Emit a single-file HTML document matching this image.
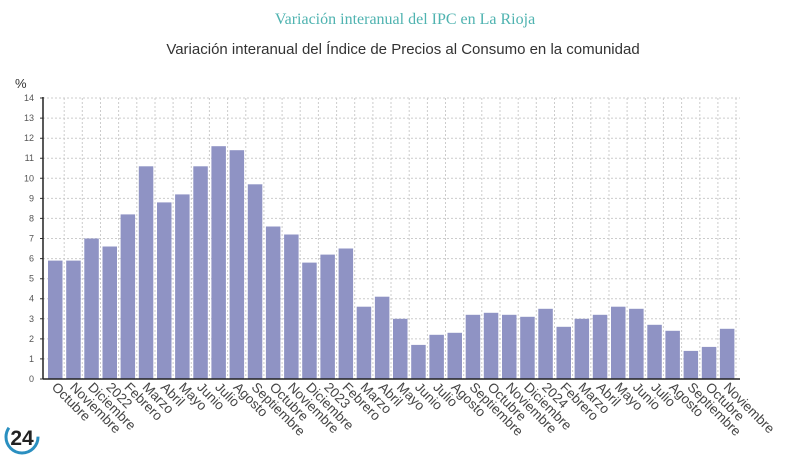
<!DOCTYPE html><html><head><meta charset="utf-8"><style>body{margin:0;background:#fff;width:800px;height:455px;overflow:hidden}svg{display:block}</style></head><body>
<svg width="800" height="455" xmlns="http://www.w3.org/2000/svg" font-family="Liberation Sans, sans-serif">
<text x="405" y="24" text-anchor="middle" font-family="Liberation Serif, serif" font-size="16" fill="#4fb3b0">Variación interanual del IPC en La Rioja</text>
<text x="403" y="54" text-anchor="middle" font-size="15" fill="#333">Variación interanual del Índice de Precios al Consumo en la comunidad</text>
<text x="15" y="88" font-size="13" fill="#333">%</text>
<g stroke="#ccc" stroke-dasharray="2,2">
<path d="M43 358.9H740M43 338.9H740M43 318.8H740M43 298.7H740M43 278.7H740M43 258.6H740M43 238.5H740M43 218.4H740M43 198.4H740M43 178.3H740M43 158.2H740M43 138.2H740M43 118.1H740M43 98H740"/>
<path d="M64.2 98V379M82.3 98V379M100.5 98V379M118.6 98V379M136.8 98V379M155 98V379M173.1 98V379M191.3 98V379M209.4 98V379M227.6 98V379M245.8 98V379M263.9 98V379M282.1 98V379M300.2 98V379M318.4 98V379M336.6 98V379M354.7 98V379M372.9 98V379M391 98V379M409.2 98V379M427.4 98V379M445.5 98V379M463.7 98V379M481.8 98V379M500 98V379M518.2 98V379M536.3 98V379M554.5 98V379M572.6 98V379M590.8 98V379M609 98V379M627.1 98V379M645.3 98V379M663.4 98V379M681.6 98V379M699.8 98V379M717.9 98V379M736 98V379"/>
</g>
<g fill="#8f93c4">
<rect x="48" y="260.6" width="14.5" height="118.4"/>
<rect x="66.2" y="260.6" width="14.5" height="118.4"/>
<rect x="84.3" y="238.5" width="14.5" height="140.5"/>
<rect x="102.5" y="246.5" width="14.5" height="132.5"/>
<rect x="120.6" y="214.4" width="14.5" height="164.6"/>
<rect x="138.8" y="166.3" width="14.5" height="212.7"/>
<rect x="157" y="202.4" width="14.5" height="176.6"/>
<rect x="175.1" y="194.4" width="14.5" height="184.6"/>
<rect x="193.3" y="166.3" width="14.5" height="212.7"/>
<rect x="211.4" y="146.2" width="14.5" height="232.8"/>
<rect x="229.6" y="150.2" width="14.5" height="228.8"/>
<rect x="247.8" y="184.3" width="14.5" height="194.7"/>
<rect x="265.9" y="226.5" width="14.5" height="152.5"/>
<rect x="284.1" y="234.5" width="14.5" height="144.5"/>
<rect x="302.2" y="262.6" width="14.5" height="116.4"/>
<rect x="320.4" y="254.6" width="14.5" height="124.4"/>
<rect x="338.6" y="248.5" width="14.5" height="130.5"/>
<rect x="356.7" y="306.7" width="14.5" height="72.3"/>
<rect x="374.9" y="296.7" width="14.5" height="82.3"/>
<rect x="393" y="318.8" width="14.5" height="60.2"/>
<rect x="411.2" y="344.9" width="14.5" height="34.1"/>
<rect x="429.4" y="334.8" width="14.5" height="44.2"/>
<rect x="447.5" y="332.8" width="14.5" height="46.2"/>
<rect x="465.7" y="314.8" width="14.5" height="64.2"/>
<rect x="483.8" y="312.8" width="14.5" height="66.2"/>
<rect x="502" y="314.8" width="14.5" height="64.2"/>
<rect x="520.2" y="316.8" width="14.5" height="62.2"/>
<rect x="538.3" y="308.8" width="14.5" height="70.2"/>
<rect x="556.5" y="326.8" width="14.5" height="52.2"/>
<rect x="574.6" y="318.8" width="14.5" height="60.2"/>
<rect x="592.8" y="314.8" width="14.5" height="64.2"/>
<rect x="611" y="306.7" width="14.5" height="72.3"/>
<rect x="629.1" y="308.8" width="14.5" height="70.2"/>
<rect x="647.3" y="324.8" width="14.5" height="54.2"/>
<rect x="665.4" y="330.8" width="14.5" height="48.2"/>
<rect x="683.6" y="350.9" width="14.5" height="28.1"/>
<rect x="701.8" y="346.9" width="14.5" height="32.1"/>
<rect x="719.9" y="328.8" width="14.5" height="50.2"/>
</g>
<g font-size="13.5" fill="#444">
<text transform="translate(51,388) rotate(45)">Octubre</text>
<text transform="translate(69.2,388) rotate(45)">Noviembre</text>
<text transform="translate(87.3,388) rotate(45)">Diciembre</text>
<text transform="translate(105.5,388) rotate(45)">2022</text>
<text transform="translate(123.6,388) rotate(45)">Febrero</text>
<text transform="translate(141.8,388) rotate(45)">Marzo</text>
<text transform="translate(160,388) rotate(45)">Abril</text>
<text transform="translate(178.1,388) rotate(45)">Mayo</text>
<text transform="translate(196.3,388) rotate(45)">Junio</text>
<text transform="translate(214.4,388) rotate(45)">Julio</text>
<text transform="translate(232.6,388) rotate(45)">Agosto</text>
<text transform="translate(250.8,388) rotate(45)">Septiembre</text>
<text transform="translate(268.9,388) rotate(45)">Octubre</text>
<text transform="translate(287.1,388) rotate(45)">Noviembre</text>
<text transform="translate(305.2,388) rotate(45)">Diciembre</text>
<text transform="translate(323.4,388) rotate(45)">2023</text>
<text transform="translate(341.6,388) rotate(45)">Febrero</text>
<text transform="translate(359.7,388) rotate(45)">Marzo</text>
<text transform="translate(377.9,388) rotate(45)">Abril</text>
<text transform="translate(396,388) rotate(45)">Mayo</text>
<text transform="translate(414.2,388) rotate(45)">Junio</text>
<text transform="translate(432.4,388) rotate(45)">Julio</text>
<text transform="translate(450.5,388) rotate(45)">Agosto</text>
<text transform="translate(468.7,388) rotate(45)">Septiembre</text>
<text transform="translate(486.8,388) rotate(45)">Octubre</text>
<text transform="translate(505,388) rotate(45)">Noviembre</text>
<text transform="translate(523.2,388) rotate(45)">Diciembre</text>
<text transform="translate(541.3,388) rotate(45)">2024</text>
<text transform="translate(559.5,388) rotate(45)">Febrero</text>
<text transform="translate(577.6,388) rotate(45)">Marzo</text>
<text transform="translate(595.8,388) rotate(45)">Abril</text>
<text transform="translate(614,388) rotate(45)">Mayo</text>
<text transform="translate(632.1,388) rotate(45)">Junio</text>
<text transform="translate(650.3,388) rotate(45)">Julio</text>
<text transform="translate(668.4,388) rotate(45)">Agosto</text>
<text transform="translate(686.6,388) rotate(45)">Septiembre</text>
<text transform="translate(704.8,388) rotate(45)">Octubre</text>
<text transform="translate(722.9,388) rotate(45)">Noviembre</text>
</g>
<g font-size="9" fill="#555" text-anchor="end">
<text x="34" y="382">0</text><text x="34" y="361.9">1</text><text x="34" y="341.9">2</text><text x="34" y="321.8">3</text><text x="34" y="301.7">4</text><text x="34" y="281.7">5</text><text x="34" y="261.6">6</text><text x="34" y="241.5">7</text><text x="34" y="221.4">8</text><text x="34" y="201.4">9</text><text x="34" y="181.3">10</text><text x="34" y="161.2">11</text><text x="34" y="141.2">12</text><text x="34" y="121.1">13</text><text x="34" y="101">14</text>
</g>
<g stroke="#333">
<path d="M40 379H43M40 358.9H43M40 338.9H43M40 318.8H43M40 298.7H43M40 278.7H43M40 258.6H43M40 238.5H43M40 218.4H43M40 198.4H43M40 178.3H43M40 158.2H43M40 138.2H43M40 118.1H43M40 98H43"/>
</g>
<line x1="43" x2="43" y1="97" y2="379" stroke="#222" stroke-width="1.5"/>
<line x1="43" x2="740" y1="379" y2="379" stroke="#222" stroke-width="1.5"/>
<circle cx="22" cy="437" r="16" fill="none" stroke="#2a8fc0" stroke-width="3" stroke-dasharray="60,40"/>
<text x="22" y="445" text-anchor="middle" font-size="21" font-weight="bold" fill="#222">24</text>
</svg></body></html>
